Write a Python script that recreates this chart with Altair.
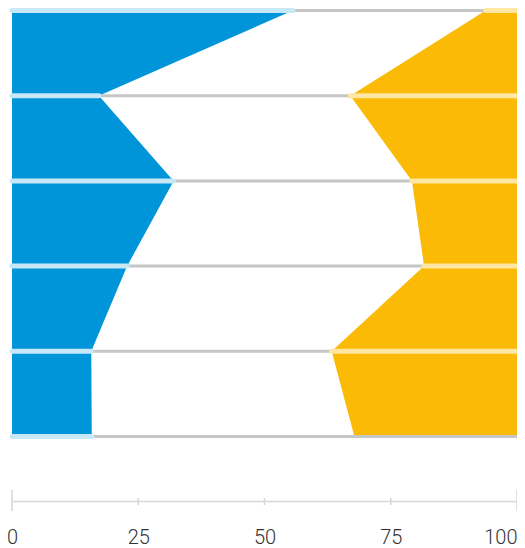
import altair as alt
import pandas as pd

levels = [0, 1, 2, 3, 4, 5]
blue_vals = [55.6, 17.2, 32.0, 22.8, 15.7, 15.8]
orange_vals = [93.8, 67.0, 79.2, 81.6, 63.3, 67.8]
tick_values = [0, 25, 50, 75, 100]
end_ticks = [0, 100]
mid_ticks = [25, 50, 75]

df = pd.DataFrame({
    "level": levels,
    "blue": blue_vals,
    "orange": orange_vals,
    "zero": [0] * len(levels),
    "hundred": [100] * len(levels),
})

BLUE = "#0095D9"
ORANGE = "#FBBA05"
LIGHT_BLUE = "#C8E7F7"
LIGHT_ORANGE = "#FEE6A3"
GRAY = "#C6C6C6"
AXIS_GRAY = "#D6D6D6"

xscale = alt.Scale(domain=[0, 100], nice=False, zero=False)
yscale = alt.Scale(domain=[0, 5], reverse=True, nice=False, zero=False)

axis = alt.Axis(
    values=tick_values,
    ticks=False,
    grid=False,
    domain=True,
    domainColor=AXIS_GRAY,
    domainWidth=1.5,
    offset=64.5,
    labelFont="Roboto",
    labelFontWeight=300,
    labelFontSize=20,
    labelColor="#333333",
    labelPadding=26,
    labelFlush=False,
    labelOverlap=False,
    labelAlign={"expr": "datum.value == 100 ? 'right' : 'center'"},
    title=None,
)

def X(field):
    return alt.X(field, type="quantitative", scale=xscale, axis=axis, title=None)

Y = alt.Y("level:Q", scale=yscale, axis=None, title=None)

base = alt.Chart(df)

blue_area = base.mark_area(orient="horizontal", color=BLUE, opacity=1).encode(
    x=X("zero"), x2="blue", y=Y
)
orange_area = base.mark_area(orient="horizontal", color=ORANGE, opacity=1).encode(
    x=X("orange"), x2="hundred", y=Y
)
gray_rule = base.mark_rule(color=GRAY, strokeWidth=3).encode(
    x=X("zero"), x2="hundred", y=Y
)
blue_rule = base.mark_rule(color=LIGHT_BLUE, strokeWidth=5, strokeCap="round").encode(
    x=X("zero"), x2="blue", y=Y
)
orange_rule = base.transform_filter("datum.level < 5").mark_rule(
    color=LIGHT_ORANGE, strokeWidth=5, strokeCap="round"
).encode(x=X("orange"), x2="hundred", y=Y)

end_tick_rules = alt.Chart(pd.DataFrame({"t": end_ticks})).mark_rule(
    color=AXIS_GRAY, strokeWidth=1.5
).encode(x=X("t"), y=alt.value(479.5), y2=alt.value(500.5))

mid_tick_rules = alt.Chart(pd.DataFrame({"t": mid_ticks})).mark_rule(
    color=AXIS_GRAY, strokeWidth=1.5
).encode(x=X("t"), y=alt.value(487.5), y2=alt.value(494.5))

chart = alt.layer(
    blue_area, orange_area, gray_rule, blue_rule, orange_rule,
    end_tick_rules, mid_tick_rules
).properties(
    width=505,
    height=426,
    autosize=alt.AutoSizeParams(type="none"),
    padding={"left": 4, "top": 2.5, "right": 0, "bottom": 111.5},
).configure_view(stroke=None)

chart.save("out.html", embed_options={"renderer": "svg", "actions": False})
